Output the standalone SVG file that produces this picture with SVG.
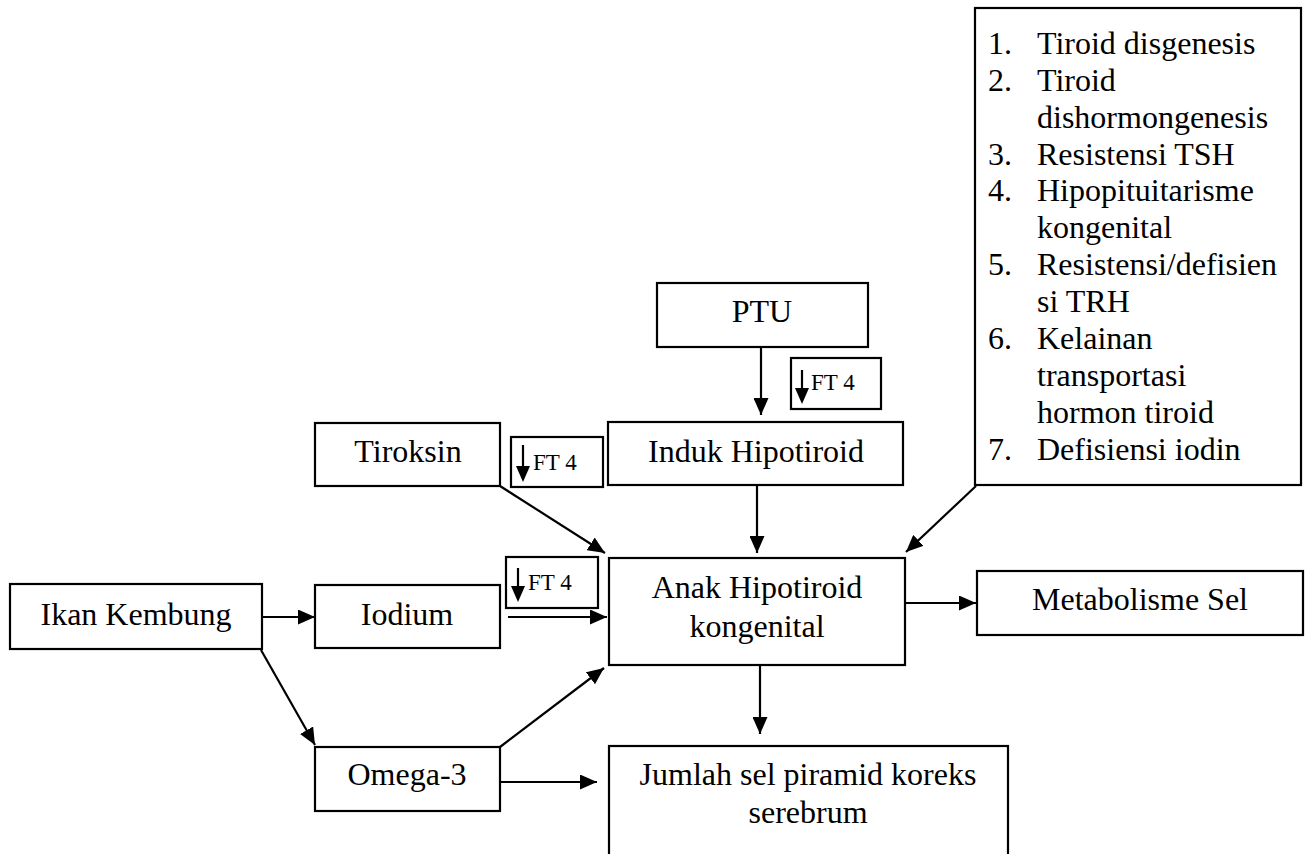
<svg xmlns="http://www.w3.org/2000/svg" width="1305" height="854" viewBox="0 0 1305 854">
<style>
.box{fill:#fff;stroke:#000;stroke-width:2.2}
.t{font-family:"Liberation Serif","Times New Roman",serif;font-size:32px;fill:#000}
.c{text-anchor:middle}
.s{font-family:"Liberation Serif","Times New Roman",serif;font-size:23px;fill:#000}
.ln{stroke:#000;stroke-width:2.2;fill:none}
.hd{fill:#000}
</style>
<defs>
<marker id="ah" markerUnits="userSpaceOnUse" markerWidth="17" markerHeight="15" refX="17" refY="7.5" orient="auto">
<path d="M0,0 L17,7.5 L0,15 z" fill="#000"/>
</marker>
</defs>
<rect width="1305" height="854" fill="#fff"/>

<g id="list">
<rect class="box" x="975" y="8" width="326" height="477"/>
<g class="t">
<text x="988" y="54">1.</text><text x="1037" y="54">Tiroid disgenesis</text>
<text x="988" y="91">2.</text><text x="1037" y="91">Tiroid</text>
<text x="1037" y="128">dishormongenesis</text>
<text x="988" y="165">3.</text><text x="1037" y="165">Resistensi TSH</text>
<text x="988" y="201">4.</text><text x="1037" y="201">Hipopituitarisme</text>
<text x="1037" y="238">kongenital</text>
<text x="988" y="275">5.</text><text x="1037" y="275">Resistensi/defisien</text>
<text x="1037" y="312">si TRH</text>
<text x="988" y="349">6.</text><text x="1037" y="349">Kelainan</text>
<text x="1037" y="386">transportasi</text>
<text x="1037" y="423">hormon tiroid</text>
<text x="988" y="460">7.</text><text x="1037" y="460">Defisiensi iodin</text>
</g>
</g>

<g id="ptu">
<rect class="box" x="657" y="283" width="211" height="64"/>
<text class="t c" x="762" y="322">PTU</text>
</g>

<g id="ft4-a">
<rect class="box" x="791" y="358" width="90" height="51"/>
<line class="ln" x1="802" y1="370" x2="802" y2="392"/>
<polygon class="hd" points="795,388 809,388 802,404"/>
<text class="s" x="811" y="390">FT 4</text>
</g>

<g id="ft4-b">
<rect class="box" x="511" y="437" width="92" height="50"/>
<line class="ln" x1="523" y1="445" x2="523" y2="470"/>
<polygon class="hd" points="516,466 530,466 523,482"/>
<text class="s" x="533" y="470">FT 4</text>
</g>

<g id="ft4-c">
<rect class="box" x="506" y="557" width="92" height="51"/>
<line class="ln" x1="518" y1="568" x2="518" y2="590"/>
<polygon class="hd" points="511,586 525,586 518,602"/>
<text class="s" x="528" y="590">FT 4</text>
</g>

<g id="induk">
<rect class="box" x="608" y="422" width="295" height="63"/>
<text class="t c" x="756" y="462">Induk Hipotiroid</text>
</g>

<g id="tiroksin">
<rect class="box" x="315" y="423" width="185" height="63"/>
<text class="t c" x="408" y="462">Tiroksin</text>
</g>

<g id="ikan">
<rect class="box" x="10" y="584" width="252" height="65"/>
<text class="t c" x="136" y="625">Ikan Kembung</text>
</g>

<g id="iodium">
<rect class="box" x="315" y="585" width="185" height="63"/>
<text class="t c" x="407" y="625">Iodium</text>
</g>

<g id="anak">
<rect class="box" x="609" y="558" width="296" height="107"/>
<text class="t c" x="757" y="598">Anak Hipotiroid</text>
<text class="t c" x="757" y="637">kongenital</text>
</g>

<g id="metabolisme">
<rect class="box" x="977" y="571" width="326" height="64"/>
<text class="t c" x="1140" y="610">Metabolisme Sel</text>
</g>

<g id="omega">
<rect class="box" x="315" y="747" width="185" height="64"/>
<text class="t c" x="407" y="785">Omega-3</text>
</g>

<g id="jumlah">
<rect class="box" x="609" y="746" width="399" height="120"/>
<text class="t c" x="808" y="785">Jumlah sel piramid koreks</text>
<text class="t c" x="808" y="823">serebrum</text>
</g>

<g id="connectors">
<line class="ln" x1="761" y1="347" x2="761" y2="415" marker-end="url(#ah)"/>
<line class="ln" x1="757" y1="485" x2="757" y2="553" marker-end="url(#ah)"/>
<line class="ln" x1="500" y1="486" x2="605" y2="553" marker-end="url(#ah)"/>
<line class="ln" x1="976" y1="486" x2="906" y2="552" marker-end="url(#ah)"/>
<line class="ln" x1="262" y1="617" x2="315" y2="617" marker-end="url(#ah)"/>
<line class="ln" x1="508" y1="617" x2="607" y2="617" marker-end="url(#ah)"/>
<line class="ln" x1="261" y1="650" x2="315" y2="745" marker-end="url(#ah)"/>
<line class="ln" x1="500" y1="747" x2="604" y2="668" marker-end="url(#ah)"/>
<line class="ln" x1="500" y1="782" x2="597" y2="782" marker-end="url(#ah)"/>
<line class="ln" x1="905" y1="603" x2="976" y2="603" marker-end="url(#ah)"/>
<line class="ln" x1="760" y1="665" x2="760" y2="734" marker-end="url(#ah)"/>
</g>
</svg>
